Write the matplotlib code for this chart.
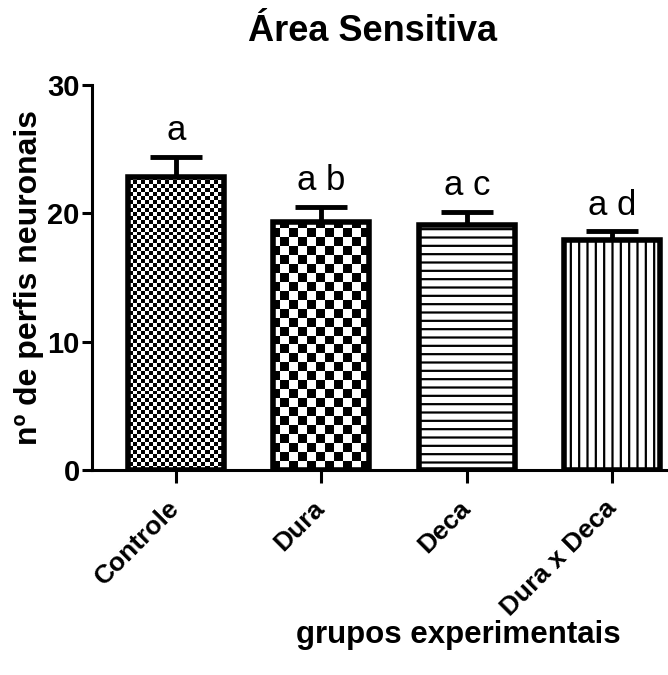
import numpy as np
import matplotlib
matplotlib.use("Agg")
import matplotlib.pyplot as plt

plt.rcParams['font.family'] = ['Liberation Sans', 'DejaVu Sans']
plt.rcParams['hatch.linewidth'] = 1.6

groups = ['Controle', 'Dura', 'Deca', 'Dura x Deca']
means = [22.8, 19.3, 19.1, 17.9]
sem = [1.6, 1.2, 1.0, 0.7]
letters = ['a', 'a b', 'a c', 'a d']

fig = plt.figure(figsize=(6.68, 6.75), dpi=100)
ax = fig.add_axes([0.138, 0.3037, 0.87, 0.5704])

x = np.arange(len(groups))
bars = ax.bar(x, means, width=0.66, color='white', edgecolor='black', linewidth=4, zorder=2)
ax.errorbar(x, means, yerr=[np.zeros(len(sem)), sem], fmt='none', ecolor='black',
            elinewidth=3.5, capsize=19, capthick=3.5, zorder=1)

# checker fills for the first two bars
def checker(cell):
    w, h = 576 // cell + 1, 385 // cell + 1
    return (np.indices((h, w)).sum(axis=0) % 2).astype(float)

for b, cell in [(bars[0], 4), (bars[1], 9)]:
    b.set_facecolor('none')
    im = ax.imshow(checker(cell), cmap='gray', interpolation='nearest', aspect='auto',
                   extent=[0, 1, 0, 1], transform=ax.transAxes, zorder=1.5)
    im.set_clip_path(b)
bars[2].set_hatch('--')
bars[3].set_hatch('||')

for xi, m, s, t in zip(x, means, sem, letters):
    ax.annotate(t, (xi, m + s), xytext=(0, 7), textcoords='offset points',
                ha='center', va='bottom', fontsize=25)

ax.set_xlim(-0.574, 3.42)
ax.set_ylim(0, 30)
ax.set_yticks([0, 10, 20, 30])
ax.set_xticks(x)
ax.set_xticklabels(groups, rotation=45, ha='right', va='center', rotation_mode='anchor',
                   fontsize=19, fontweight='bold')
for lab in ax.get_yticklabels():
    lab.set_fontsize(21)
    lab.set_fontweight('bold')
ax.spines['top'].set_visible(False)
ax.spines['right'].set_visible(False)
ax.spines['left'].set_linewidth(2.2)
ax.spines['bottom'].set_linewidth(2.2)
ax.tick_params(width=2.2, length=7, pad=2)
ax.tick_params(axis='x', length=9, pad=16)

ax.set_ylabel('nº de perfis neuronais', fontsize=23, fontweight='bold', labelpad=2)
ax.set_xlabel('grupos experimentais', fontsize=22.5, fontweight='bold')
ax.xaxis.set_label_coords((455 - 92) / 576, -0.39)
ax.set_title('Área Sensitiva', fontsize=26, fontweight='bold', pad=32, x=(370 - 92) / 576)

fig.savefig('out.png', dpi=100)
